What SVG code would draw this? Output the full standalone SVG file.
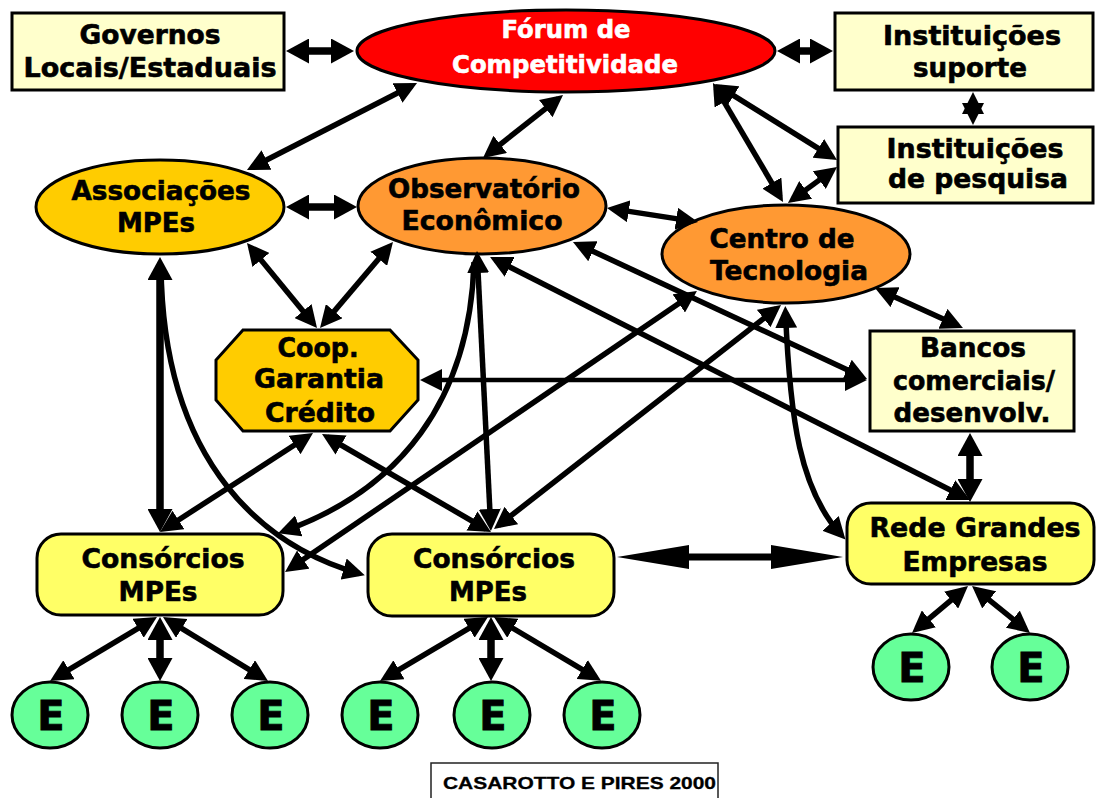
<svg xmlns="http://www.w3.org/2000/svg" width="1101" height="798" viewBox="0 0 1101 798">
  <defs>
    <style>
      .box { fill: #FFFFCC; stroke: #000; stroke-width: 3; }
      .red { fill: #FF0000; stroke: #000; stroke-width: 3; }
      .gold { fill: #FFCC00; stroke: #000; stroke-width: 3; }
      .orange { fill: #FF9933; stroke: #000; stroke-width: 3; }
      .pale { fill: #FFFF66; stroke: #000; stroke-width: 3; }
      .green { fill: #66FF99; stroke: #000; stroke-width: 3; }
      .t { font-family: "DejaVu Sans", Verdana, sans-serif; font-weight: bold; font-size: 26.5px; text-anchor: middle; fill: #000; stroke: #000; stroke-width: 0.6; }
      .w { fill: #FFFFFF; stroke: #FFFFFF; font-size: 24.5px; }
      .e { font-size: 40px; stroke-width: 0.8; }
      .cite { font-family: "Liberation Sans", Arial, sans-serif; font-weight: bold; font-size: 17px; fill: #000; stroke: #000; stroke-width: 0.3; }
      .c { fill: none; stroke: #000; stroke-width: 5.5; marker-start: url(#ah); marker-end: url(#ah); }
      .k { stroke-width: 7.5; marker-start: url(#ahb); marker-end: url(#ahb); }
      .l { stroke-width: 7; marker-start: url(#ahl); marker-end: url(#ahl); }
      .one { marker-start: none; }
      .thin { stroke-width: 4.5; }
    </style>
    <marker id="ah" viewBox="0 0 22 22" markerWidth="22" markerHeight="22" refX="16" refY="11" orient="auto-start-reverse" markerUnits="userSpaceOnUse">
      <path d="M0,0 L22,11 L0,22 Z" fill="#000"/>
    </marker>
    <marker id="ahb" viewBox="0 0 23 25" markerWidth="23" markerHeight="25" refX="14" refY="12.5" orient="auto-start-reverse" markerUnits="userSpaceOnUse">
      <path d="M0,0 L23,12.5 L0,25 Z" fill="#000"/>
    </marker>
    <marker id="ahl" viewBox="0 0 72 24" markerWidth="72" markerHeight="24" refX="40" refY="12" orient="auto-start-reverse" markerUnits="userSpaceOnUse">
      <path d="M0,0 L72,12 L0,24 Z" fill="#000"/>
    </marker>
  </defs>

  <rect width="1101" height="798" fill="#FFFFFF"/>

  <!-- nodes -->
  <g id="governos">
    <rect class="box" x="12" y="13" width="272" height="77"/>
    <text class="t" x="150" y="44" textLength="141" lengthAdjust="spacingAndGlyphs">Governos</text>
    <text class="t" x="150" y="77" textLength="253" lengthAdjust="spacingAndGlyphs">Locais/Estaduais</text>
  </g>
  <g id="forum">
    <ellipse class="red" cx="566" cy="51" rx="209" ry="41"/>
    <text class="t w" x="566" y="38" textLength="129" lengthAdjust="spacingAndGlyphs">Fórum de</text>
    <text class="t w" x="565" y="73" textLength="226" lengthAdjust="spacingAndGlyphs">Competitividade</text>
  </g>
  <g id="inst-suporte">
    <rect class="box" x="835" y="13" width="258" height="77"/>
    <text class="t" x="972" y="45" textLength="178" lengthAdjust="spacingAndGlyphs">Instituições</text>
    <text class="t" x="970" y="77" textLength="114" lengthAdjust="spacingAndGlyphs">suporte</text>
  </g>
  <g id="inst-pesquisa">
    <rect class="box" x="838" y="127" width="255" height="76"/>
    <text class="t" x="975" y="158" textLength="177" lengthAdjust="spacingAndGlyphs">Instituições</text>
    <text class="t" x="978" y="188" textLength="180" lengthAdjust="spacingAndGlyphs">de pesquisa</text>
  </g>
  <g id="associacoes">
    <ellipse class="gold" cx="160" cy="207" rx="124" ry="47"/>
    <text class="t" x="161" y="200" textLength="179" lengthAdjust="spacingAndGlyphs">Associações</text>
    <text class="t" x="156" y="232" textLength="78" lengthAdjust="spacingAndGlyphs">MPEs</text>
  </g>
  <g id="observatorio">
    <ellipse class="orange" cx="482" cy="206" rx="124" ry="48"/>
    <text class="t" x="484" y="198" textLength="192" lengthAdjust="spacingAndGlyphs">Observatório</text>
    <text class="t" x="482" y="230" textLength="161" lengthAdjust="spacingAndGlyphs">Econômico</text>
  </g>
  <g id="centro-tecnologia">
    <ellipse class="orange" cx="786" cy="254" rx="124" ry="49"/>
    <text class="t" x="782" y="248" textLength="145" lengthAdjust="spacingAndGlyphs">Centro de</text>
    <text class="t" x="789" y="280" textLength="158" lengthAdjust="spacingAndGlyphs">Tecnologia</text>
  </g>
  <g id="coop-garantia">
    <polygon class="gold" points="243,330 390,330 418,360 418,400 390,431 243,431 216,400 216,360"/>
    <text class="t" x="318" y="357" textLength="81" lengthAdjust="spacingAndGlyphs">Coop.</text>
    <text class="t" x="319" y="388" textLength="130" lengthAdjust="spacingAndGlyphs">Garantia</text>
    <text class="t" x="320" y="422" textLength="110" lengthAdjust="spacingAndGlyphs">Crédito</text>
  </g>
  <g id="bancos">
    <rect class="box" x="870" y="331" width="204" height="100"/>
    <text class="t" x="973" y="357" textLength="106" lengthAdjust="spacingAndGlyphs">Bancos</text>
    <text class="t" x="974" y="390" textLength="162" lengthAdjust="spacingAndGlyphs">comerciais/</text>
    <text class="t" x="972" y="422" textLength="157" lengthAdjust="spacingAndGlyphs">desenvolv.</text>
  </g>
  <g id="consorcios-1">
    <rect class="pale" x="37" y="534" width="246" height="81" rx="24"/>
    <text class="t" x="163" y="568" textLength="163" lengthAdjust="spacingAndGlyphs">Consórcios</text>
    <text class="t" x="158" y="601" textLength="79" lengthAdjust="spacingAndGlyphs">MPEs</text>
  </g>
  <g id="consorcios-2">
    <rect class="pale" x="368" y="534" width="246" height="82" rx="24"/>
    <text class="t" x="494" y="568" textLength="162" lengthAdjust="spacingAndGlyphs">Consórcios</text>
    <text class="t" x="488" y="601" textLength="78" lengthAdjust="spacingAndGlyphs">MPEs</text>
  </g>
  <g id="rede-grandes">
    <rect class="pale" x="847" y="503" width="247" height="81" rx="24"/>
    <text class="t" x="975" y="537" textLength="211" lengthAdjust="spacingAndGlyphs">Rede Grandes</text>
    <text class="t" x="975" y="571" textLength="145" lengthAdjust="spacingAndGlyphs">Empresas</text>
  </g>
  <g id="e1"><ellipse class="green" cx="50" cy="715" rx="38" ry="33"/><text class="t e" x="51" y="730">E</text></g>
  <g id="e2"><ellipse class="green" cx="160" cy="715" rx="38" ry="33"/><text class="t e" x="161" y="730">E</text></g>
  <g id="e3"><ellipse class="green" cx="270" cy="715" rx="38" ry="33"/><text class="t e" x="271" y="730">E</text></g>
  <g id="e4"><ellipse class="green" cx="380" cy="715" rx="38" ry="33"/><text class="t e" x="381" y="730">E</text></g>
  <g id="e5"><ellipse class="green" cx="492" cy="715" rx="38" ry="33"/><text class="t e" x="493" y="730">E</text></g>
  <g id="e6"><ellipse class="green" cx="602" cy="715" rx="38" ry="33"/><text class="t e" x="603" y="730">E</text></g>
  <g id="e7"><ellipse class="green" cx="911" cy="667" rx="38" ry="33"/><text class="t e" x="912" y="682">E</text></g>
  <g id="e8"><ellipse class="green" cx="1030" cy="667" rx="38" ry="33"/><text class="t e" x="1031" y="682">E</text></g>

  <g id="citation">
    <rect x="431" y="763" width="287" height="45" fill="#FFFFFF" stroke="#222" stroke-width="1.5"/>
    <text class="cite" x="443" y="789" textLength="273" lengthAdjust="spacingAndGlyphs">CASAROTTO E PIRES 2000</text>
  </g>

  <!-- connectors -->
  <g id="connectors">
    <path class="c k" d="M295,51 L345,51"/>
    <path class="c k" d="M786,51 L824,51"/>
    <!-- short two-way link: both heads overlap into a star -->
    <path d="M973,92 L962,114 L984,114 Z" fill="#000"/>
    <path d="M973,125 L962,103 L984,103 Z" fill="#000"/>
    <path class="c" d="M411.7,85.7 L252.3,167.3"/>
    <path class="c" d="M558.3,98.7 L487.7,154.3"/>
    <path class="c" d="M716,88.2 L780,196.8"/>
    <path class="c" d="M720.1,87.2 L831.9,156.8"/>
    <path class="c" d="M792.8,199.4 L832.2,170.6"/>
    <path class="c k" d="M295,207 L348,207"/>
    <path class="c" d="M612.9,208.9 L692.1,221.1"/>
    <path class="c" d="M250.8,247.6 L313.2,323.4"/>
    <path class="c" d="M389.1,246.6 L323.9,323.4"/>
    <path class="c k" d="M160,266 L160,523"/>
    <path class="c one" d="M161,266 C163,470 270,548 359,573.5"/>
    <path class="c" d="M308,436.3 L165,528.7"/>
    <path class="c" d="M327.2,437 L485.8,529"/>
    <path class="c one" d="M474,262 C470,400 400,490 283.7,531.2"/>
    <path class="c" d="M477.3,257 L490.6,525"/>
    <path class="c" d="M495.4,259.7 L964.6,497.3"/>
    <path class="c" d="M578.4,244.5 L861.6,376.5"/>
    <path class="c thin" d="M426,380 L861,380"/>
    <path class="c" d="M692,294.4 L290,568.6"/>
    <path class="c" d="M776.3,308.7 L498.7,525.3"/>
    <path class="c" d="M785.5,312 C790,420 800,490 841.4,535.2"/>
    <path class="c" d="M880.5,290.5 L957.5,325.5"/>
    <path class="c k" d="M970,442 L970,493"/>
    <path class="c l" d="M649,557 L811,557"/>
    <path class="c" d="M151.8,620.1 L55.2,677.9"/>
    <path class="c k" d="M160,626 L160,672"/>
    <path class="c" d="M168.1,620.1 L262.9,677.9"/>
    <path class="c" d="M482.8,620.1 L385.2,677.9"/>
    <path class="c k" d="M491,626 L491,672"/>
    <path class="c" d="M499.1,620.1 L595.9,677.7"/>
    <path class="c" d="M963.4,589.9 L916.6,629.1"/>
    <path class="c" d="M976.7,589.8 L1025.3,629.2"/>
  </g>
</svg>
